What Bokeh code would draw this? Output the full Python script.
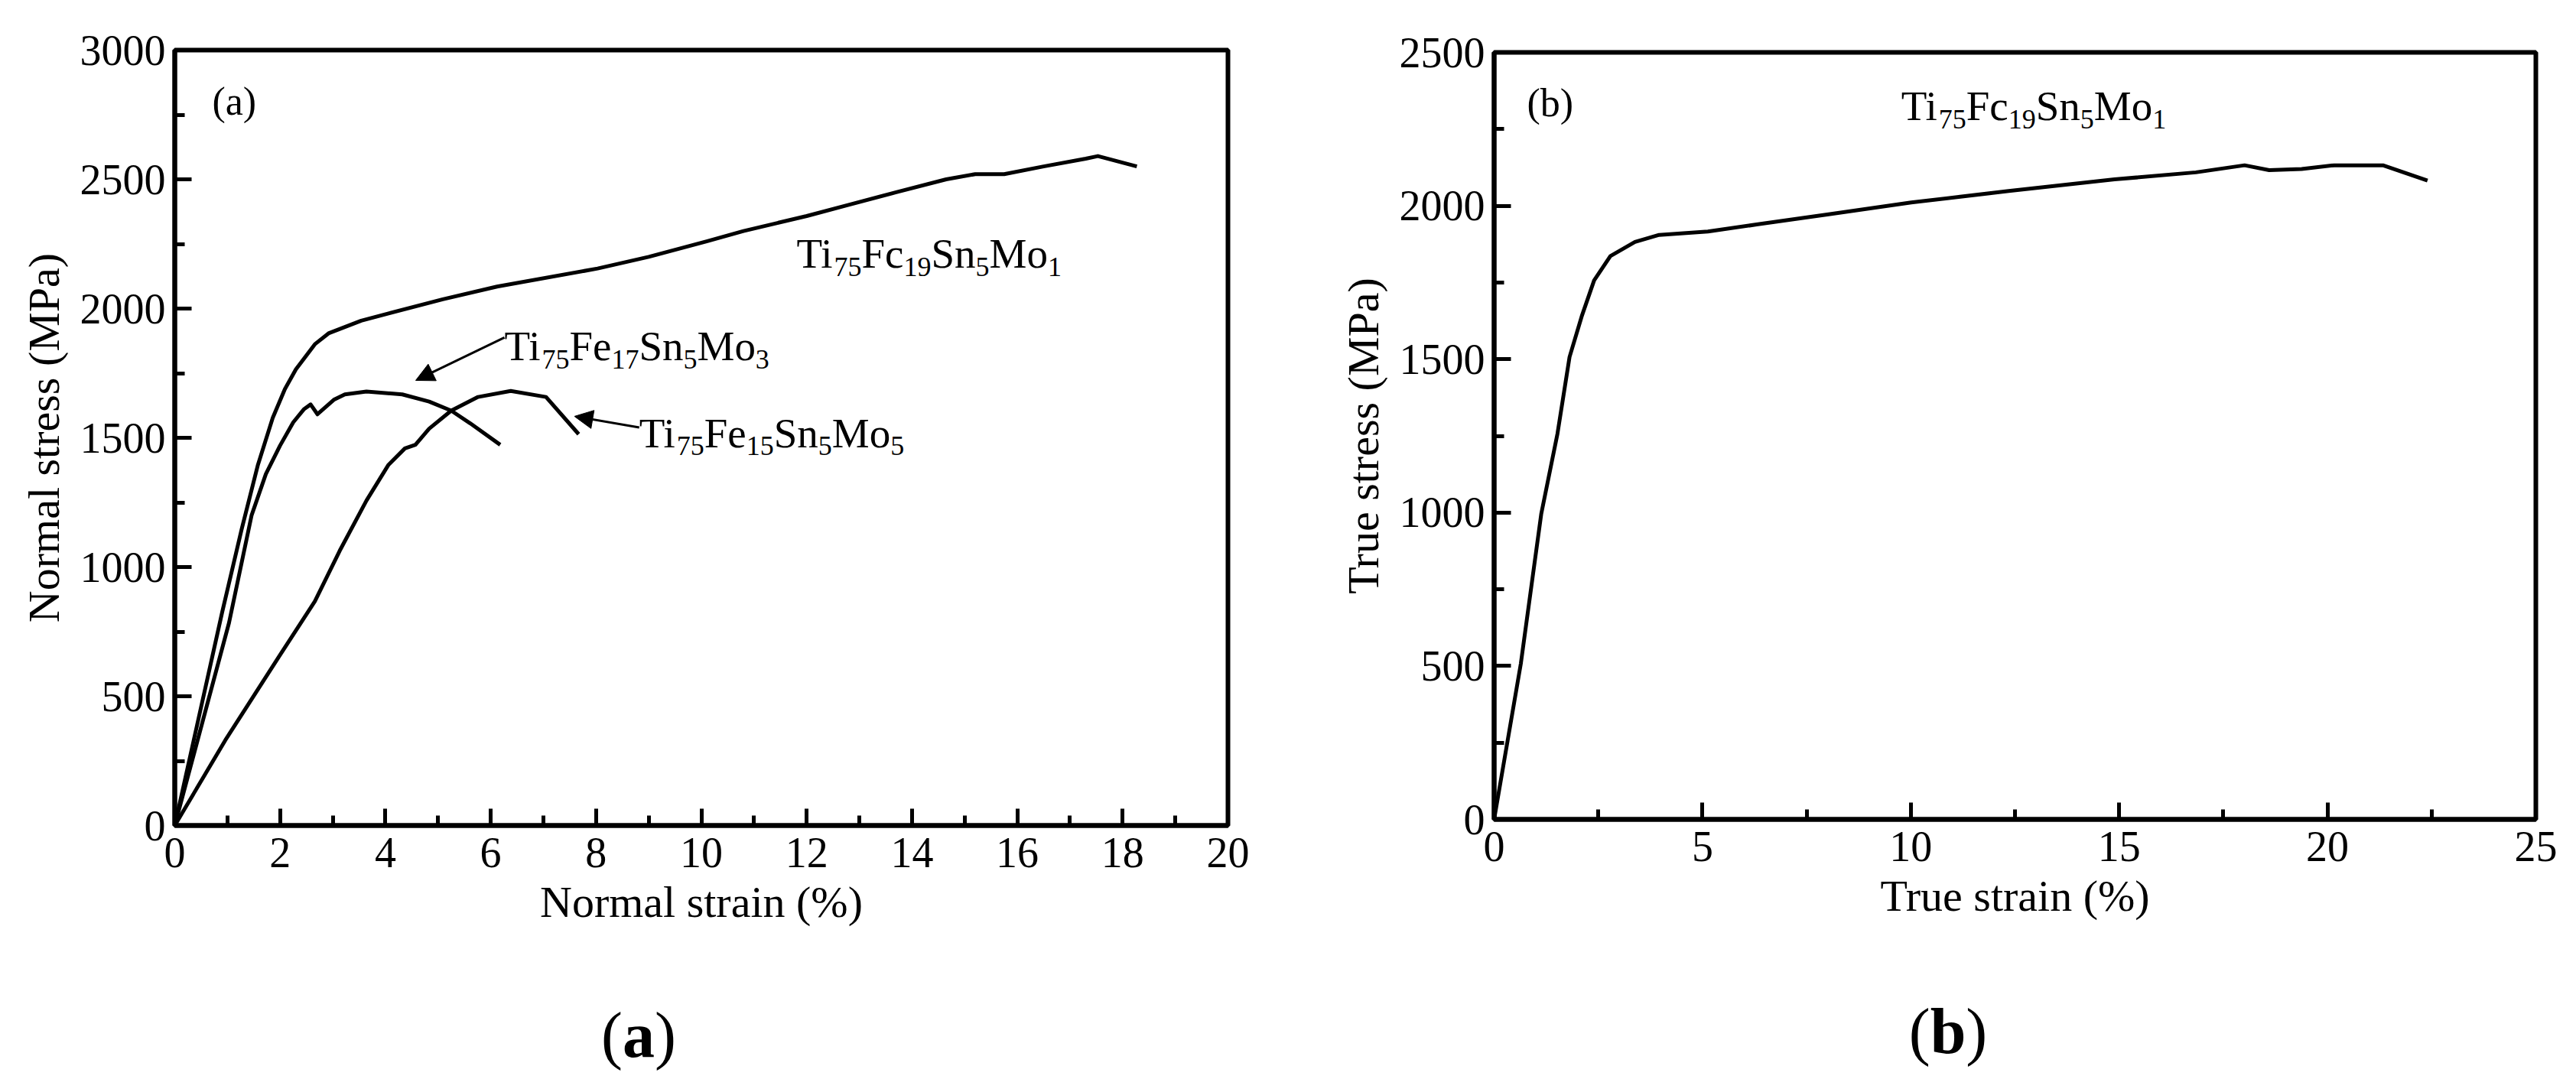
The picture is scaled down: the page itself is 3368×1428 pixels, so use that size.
from bokeh.plotting import figure
from bokeh.models import Range1d, FixedTicker, Label, Arrow, NormalHead, Div
from bokeh.layouts import row, column
from bokeh.embed import file_html
from bokeh.resources import INLINE

# ---------------- data ----------------
# Panel (a): normal (engineering) stress-strain curves
strain_mo1 = [0, 0.90, 1.27, 1.58, 1.86, 2.09, 2.30, 2.66, 2.92, 3.54, 4.06, 5.09, 6.12,
              8.03, 9.0, 10.1, 10.8, 12.0, 12.77, 13.7, 14.65, 15.2, 15.75, 16.5, 17.3,
              17.53, 18.27]
stress_mo1 = [0, 825, 1146, 1396, 1577, 1688, 1765, 1862, 1904, 1953, 1981, 2036, 2085,
              2155, 2200, 2260, 2300, 2358, 2400, 2450, 2500, 2520, 2520, 2550, 2580,
              2590, 2550]

strain_mo3 = [0, 1.03, 1.46, 1.73, 2.00, 2.25, 2.45, 2.58, 2.71, 3.02, 3.23, 3.64, 4.32,
              4.83, 5.25, 5.61, 6.18]
stress_mo3 = [0, 784, 1201, 1360, 1470, 1560, 1610, 1629, 1591, 1647, 1668, 1679, 1668,
              1640, 1605, 1556, 1473]

strain_mo5 = [0, 0.96, 2.0, 2.66, 3.13, 3.64, 4.06, 4.37, 4.57, 4.83, 5.25, 5.76, 6.38,
              7.05, 7.67]
stress_mo5 = [0, 330, 660, 867, 1062, 1257, 1396, 1459, 1473, 1535, 1605, 1658, 1681,
              1658, 1514]

# Panel (b): true stress-strain curve of Ti75Fe19Sn5Mo1
true_strain = [0, 0.64, 1.13, 1.52, 1.81, 2.11, 2.40, 2.79, 3.38, 3.96, 5.13, 6.30, 8.06,
               10.01, 12.35, 14.89, 16.84, 18.01, 18.6, 19.38, 20.16, 21.33, 22.4]
true_stress = [0, 507, 995, 1257, 1507, 1643, 1757, 1836, 1882, 1905, 1916, 1939, 1973,
               2011, 2048, 2086, 2109, 2132, 2116, 2120, 2132, 2132, 2082]

# Tick values
a_x_major = [0, 2, 4, 6, 8, 10, 12, 14, 16, 18, 20]
a_x_minor = [1, 3, 5, 7, 9, 11, 13, 15, 17, 19]
a_y_major = [0, 500, 1000, 1500, 2000, 2500, 3000]
a_y_minor = [250, 750, 1250, 1750, 2250, 2750]
b_x_major = [0, 5, 10, 15, 20, 25]
b_x_minor = [2.5, 7.5, 12.5, 17.5, 22.5]
b_y_major = [0, 500, 1000, 1500, 2000, 2500]
b_y_minor = [250, 750, 1250, 1750, 2250]

# Curve labels (text pieces, True = subscript)
label_mo1 = [("Ti", False), ("75", True), ("Fc", False), ("19", True), ("Sn", False),
             ("5", True), ("Mo", False), ("1", True)]
label_mo3 = [("Ti", False), ("75", True), ("Fe", False), ("17", True), ("Sn", False),
             ("5", True), ("Mo", False), ("3", True)]
label_mo5 = [("Ti", False), ("75", True), ("Fe", False), ("15", True), ("Sn", False),
             ("5", True), ("Mo", False), ("5", True)]

FONT = "Liberation Serif"
# Times-compatible advance widths (per 1000 em)
WIDTHS = {"T": 611, "i": 278, "F": 556, "e": 444, "c": 444, "S": 556, "n": 500,
          "M": 889, "o": 500}


def text_width(s, size):
    return sum(WIDTHS.get(ch, 500) for ch in s) * size / 1000.0


def add_formula(p, x, y, parts, size_main=55, size_sub=36, drop=17):
    off = 0.0
    for txt, sub in parts:
        size = size_sub if sub else size_main
        p.add_layout(Label(x=x, y=y, x_offset=off, y_offset=-drop if sub else 0,
                           text=txt, text_font=FONT, text_font_size=f"{size}px",
                           text_baseline="alphabetic", text_align="left",
                           text_color="black"))
        off += text_width(txt, size)


def style(p, xmaj, xmin, ymaj, ymin, xlabel, ylabel):
    p.xgrid.visible = False
    p.ygrid.visible = False
    p.outline_line_color = "black"
    p.outline_line_width = 6
    p.outline_line_alpha = 1.0
    p.xaxis.ticker = FixedTicker(ticks=xmaj, minor_ticks=xmin)
    p.yaxis.ticker = FixedTicker(ticks=ymaj, minor_ticks=ymin)
    p.xaxis.axis_label = xlabel
    p.yaxis.axis_label = ylabel
    for ax in (p.xaxis[0], p.yaxis[0]):
        ax.axis_line_width = 6
        ax.axis_line_color = "black"
        ax.major_tick_in = 22
        ax.major_tick_out = 0
        ax.minor_tick_in = 13
        ax.minor_tick_out = 0
        ax.major_tick_line_width = 5
        ax.minor_tick_line_width = 5
        ax.major_tick_line_color = "black"
        ax.minor_tick_line_color = "black"
        ax.major_label_text_font = FONT
        ax.major_label_text_font_size = "56px"
        ax.major_label_text_color = "black"
        ax.axis_label_text_font = FONT
        ax.axis_label_text_font_size = "58px"
        ax.axis_label_text_font_style = "normal"
        ax.axis_label_text_color = "black"
    p.xaxis.major_label_standoff = 16
    p.yaxis.major_label_standoff = 12
    p.xaxis.axis_label_standoff = 10
    p.yaxis.axis_label_standoff = 12


def caption(letter, width, pad_left, pad_right):
    return Div(text=f"(<b>{letter}</b>)", width=width, height=200,
               styles={"font-family": FONT, "font-size": "84px", "line-height": "1",
                       "text-align": "center", "color": "black",
                       "padding-top": "93px", "padding-left": f"{pad_left}px",
                       "padding-right": f"{pad_right}px", "box-sizing": "border-box"})


# ---------------- panel (a) ----------------
pa = figure(frame_width=1377, frame_height=1014, x_range=Range1d(0, 20),
            y_range=Range1d(0, 3000), output_backend="svg", toolbar_location=None,
            min_border_left=228, min_border_top=65, min_border_right=100,
            min_border_bottom=130, background_fill_color="white",
            border_fill_color="white")
style(pa, a_x_major, a_x_minor, a_y_major, a_y_minor,
      "Normal strain (%)", "Normal stress (MPa)")
pa.line(strain_mo1, stress_mo1, line_color="black", line_width=5, line_join="round")
pa.line(strain_mo3, stress_mo3, line_color="black", line_width=5, line_join="round")
pa.line(strain_mo5, stress_mo5, line_color="black", line_width=5, line_join="round")

pa.add_layout(Label(x=0.71, y=2802, text="(a)", text_font=FONT, text_font_size="52px",
                    text_baseline="alphabetic", text_color="black"))
add_formula(pa, 11.81, 2213, label_mo1)
add_formula(pa, 6.26, 1855, label_mo3)
add_formula(pa, 8.82, 1518, label_mo5)

pa.add_layout(Arrow(end=NormalHead(size=24, fill_color="black", line_color="black"),
                    x_start=6.26, y_start=1888, x_end=4.575, y_end=1722,
                    line_width=3, line_color="black"))
pa.add_layout(Arrow(end=NormalHead(size=24, fill_color="black", line_color="black"),
                    x_start=8.82, y_start=1540, x_end=7.59, y_end=1583,
                    line_width=3, line_color="black"))

# ---------------- panel (b) ----------------
pb = figure(frame_width=1362, frame_height=1003, x_range=Range1d(0, 25),
            y_range=Range1d(0, 2500), output_backend="svg", toolbar_location=None,
            min_border_left=238, min_border_top=68, min_border_right=30,
            min_border_bottom=138, background_fill_color="white",
            border_fill_color="white")
style(pb, b_x_major, b_x_minor, b_y_major, b_y_minor,
      "True strain (%)", "True stress (MPa)")
pb.line(true_strain, true_stress, line_color="black", line_width=5, line_join="round")
pb.add_layout(Label(x=0.79, y=2335, text="(b)", text_font=FONT, text_font_size="52px",
                    text_baseline="alphabetic", text_color="black"))
add_formula(pb, 9.77, 2325, label_mo1)

cap_a = caption("a", 1705, 0, 45)
cap_b = caption("b", 1630, 24, 0)

layout = row(column(pa, cap_a), column(pb, cap_b))
open("out.html", "w").write(file_html(layout, INLINE))
